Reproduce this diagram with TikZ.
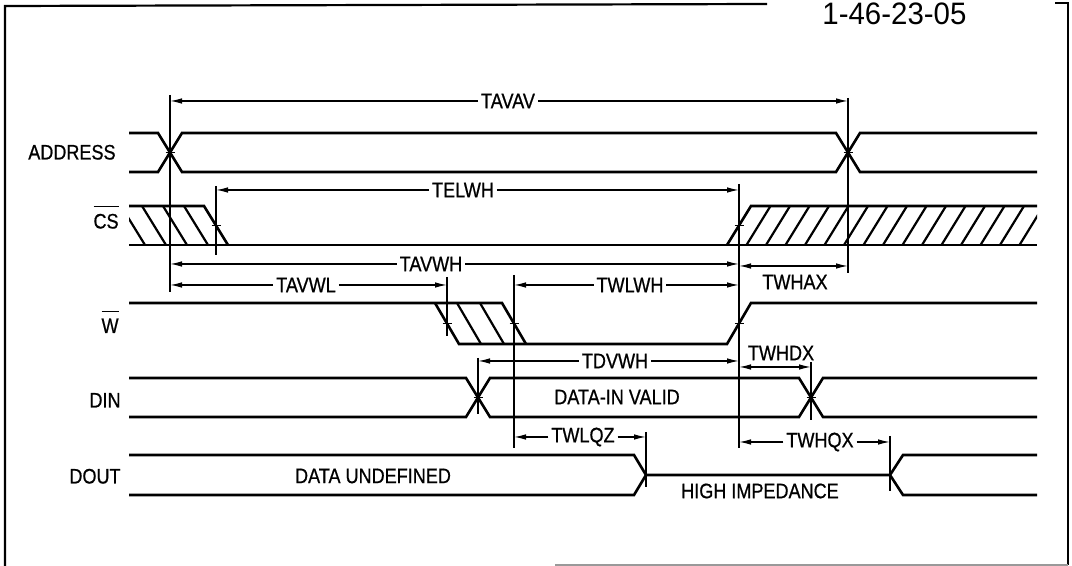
\documentclass[tikz,border=0pt]{standalone}
\usepackage{fontspec}
\setmainfont{Liberation Sans}[FakeStretch=0.86, FakeBold=0.7]
\newfontfamily\stampfamily{Liberation Sans}[FakeStretch=0.95]
\usetikzlibrary{arrows.meta}
\newcommand{\sigfont}{\fontsize{10.5}{12}\selectfont}
\newcommand{\stampfont}{\stampfamily\fontsize{15.5}{18}\selectfont}
\newcommand{\actlow}[1]{\setbox0\hbox{#1}\vbox{\hrule height 0.7pt width \wd0\kern 3.2pt\box0}}
\tikzset{
  siglbl/.style={font=\sigfont, anchor=base east, inner sep=0pt},
  datalbl/.style={font=\sigfont, inner sep=0pt},
  dimlbl/.style={font=\sigfont, inner sep=1.3pt},
  dimarr/.style={line width=0.7pt, ->},
  frame/.style={line width=1.1pt},
}

\begin{document}
\begin{tikzpicture}[x=0.5pt, y=-0.5pt,
  sig/.style={line width=1.3pt, line join=miter},
  hatch/.style={line width=1.1pt},
  guide/.style={line width=0.9pt},
  tickm/.style={line width=0.9pt},
  >={Latex[length=6pt,width=2.8pt]}]
\useasboundingbox (0,0) rectangle (1072,566);
% sheet frame and stamp
\draw[frame] (767,4) -- (5,6) -- (5,566);
\draw[frame] (1055,3) -- (1068,3) -- (1068,565);
\draw[black!40, line width=0.6pt] (555,565) -- (1068,565);
\node[font=\stampfont, anchor=base west, inner sep=0pt] (docref) at (822,25) {1-46-23-05};
% signal names
\node[siglbl] (lblAddr) at (116,159.5) {ADDRESS};
\node[siglbl] (lblCS) at (119,228.5) {\actlow{CS}};
\node[siglbl] (lblW) at (119,333) {\actlow{W}};
\node[siglbl] (lblDin) at (121,407.5) {DIN};
\node[siglbl] (lblDout) at (121,483.5) {DOUT};
% ADDRESS
\draw[sig] (129,133) -- (158,133) -- (182,172) -- (836,172) -- (860,133) -- (1037,133);
\draw[sig] (129,172) -- (158,172) -- (182,133) -- (836,133) -- (860,172) -- (1037,172);
% CS
\draw[sig] (129,245) -- (1037,245);
\draw[sig] (129,206) -- (204,206) -- (228,245);
\draw[sig] (727,245) -- (751,206) -- (1037,206);
\begin{scope}
  \clip (129,206) -- (204,206) -- (228,245) -- (129,245) -- cycle;
  \foreach \t in {121,142,163,184}
    \draw[hatch] (\t,206) -- ++(24,39);
\end{scope}
\begin{scope}
  \clip (751,206) -- (1037,206) -- (1037,245) -- (727,245) -- cycle;
  \foreach \k in {1,...,16}
    \draw[hatch] ({727+19.5*\k},245) -- ++(24,-39);
\end{scope}
% W
\draw[sig] (129,303) -- (502,303) -- (526,344);
\draw[sig] (435,303) -- (459,344) -- (727,344) -- (751,303) -- (1037,303);
\begin{scope}
  \clip (435,303) -- (502,303) -- (526,344) -- (459,344) -- cycle;
  \foreach \t in {457,480}
    \draw[hatch] (\t,303) -- ++(24,41);
\end{scope}
% DIN
\draw[sig] (129,378) -- (466,378) -- (490,417) -- (799,417) -- (823,378) -- (1037,378);
\draw[sig] (129,417) -- (466,417) -- (490,378) -- (799,378) -- (823,417) -- (1037,417);
\node[datalbl] (dinValid) at (617,397) {DATA-IN VALID};
% DOUT
\draw[sig] (129,455) -- (634,455) -- (646,475) -- (890,475) -- (903,455) -- (1037,455);
\draw[sig] (129,495) -- (634,495) -- (646,475);
\draw[sig] (890,475) -- (903,495) -- (1037,495);
\node[datalbl] (doutUndef) at (373,476) {DATA UNDEFINED};
\node[datalbl] (doutHiZ) at (760,491) {HIGH IMPEDANCE};
% reference lines
\foreach \nm/\x/\ya/\yb in {A/170/95/292, B/848/98/273, C/216/186/255, D/739/184/448,
    E/447/277/336, F/514/275/448, G/478/358/414, H/811/362/420, I/646/432/487, J/890/436/491}{
  \coordinate (m\nm t) at (\x,\ya);
  \coordinate (m\nm b) at (\x,\yb);
  \draw[guide] (m\nm t) -- (m\nm b);
}
\foreach \x/\y in {170/152.5, 848/152.5, 216/225.5, 739/225.5, 447/323.5, 514/323.5,
    739/323.5, 478/397.5, 811/397.5}
  \draw[tickm] (\x,\y) ++(-4.5,0) -- ++(9,0);
% timing parameters
\foreach \nm/\x/\y/\l/\r in {TAVAV/508/101/A/B, TELWH/463/190/C/D, TAVWH/431/264/A/D,
    TAVWL/306/285/A/E, TWLWH/630/285/F/D, TDVWH/615/361/G/D, TWLQZ/583/437/F/I,
    TWHQX/820/442/D/J}{
  \node[dimlbl] (\nm) at (\x,\y) {\nm};
  \draw[dimarr] (\nm.west) -- (\nm.west -| m\l t);
  \draw[dimarr] (\nm.east) -- (\nm.east -| m\r t);
}
\node[dimlbl] (TWHAX) at (795,282) {TWHAX};
\coordinate (twhax) at (795,266);
\draw[dimarr] (twhax) -- (twhax -| mDt);
\draw[dimarr] (twhax) -- (twhax -| mBt);
\node[dimlbl] (TWHDX) at (781,353) {TWHDX};
\coordinate (twhdx) at (775,367);
\draw[dimarr] (twhdx) -- (twhdx -| mDt);
\draw[dimarr] (twhdx) -- (twhdx -| mHt);
\end{tikzpicture}
\end{document}
